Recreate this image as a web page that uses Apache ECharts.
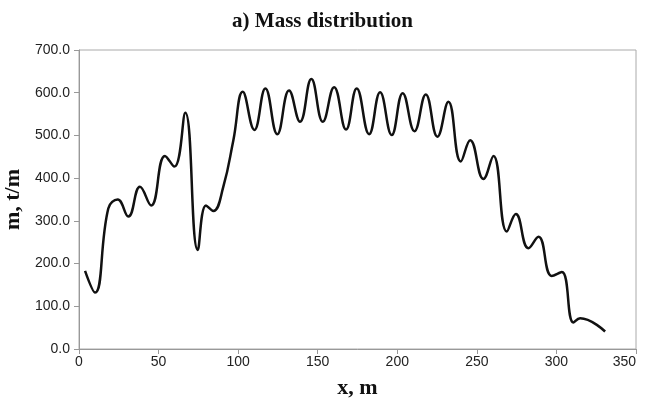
<!DOCTYPE html>
<html><head><meta charset="utf-8">
<script src="https://cdn.jsdelivr.net/npm/echarts@6/dist/echarts.min.js"></script>
<style>html,body{margin:0;padding:0;background:#fff}#c{width:645px;height:404px}</style>
</head><body><div id="c"></div>
<script>
const xPos = [3.8,10.1,18.4,24.3,31,38.3,45.3,54,59.9,66.8,74.6,79.8,84.4,90.7,97,102.9,110.2,117.1,124.6,132,138.9,146,153.2,160.3,167.8,174.5,182.3,189.2,196.5,203.4,210.8,217.9,225.2,232.1,239.9,245.8,254.1,260.4,268.8,274.5,282.4,288.7,297.1,303.4,310.7,314.9,330.6];
const mass = [183,132,329,350,310,380,336,452,427,553,232,336,323,380,489,602,513,610,503,605,532,632,532,613,514,610,503,601,501,599,510,596,497,579,439,489,398,452,275,316,236,263,171,180,62,72,41];
const xTicks = [0,50,100,150,200,250,300,350];
const yTicks = [0,100,200,300,400,500,600,700];

const chart = echarts.init(document.getElementById('c'));
chart.setOption({
  animation:false,
  title:{text:'a) Mass distribution',left:'center',top:6,
    textStyle:{fontFamily:'Liberation Serif',fontWeight:'bold',fontSize:21,color:'#111'}},
  grid:{left:79,right:9,top:50,bottom:55,show:true,borderColor:'#aaa',borderWidth:1,outerBoundsMode:'none',containLabel:false},
  xAxis:{type:'value',min:xTicks[0],max:xTicks[xTicks.length-1],interval:50,
    name:'x, m',nameLocation:'middle',nameGap:28,
    nameTextStyle:{fontFamily:'Liberation Serif',fontWeight:'bold',fontSize:22,color:'#111'},
    axisLine:{lineStyle:{color:'#999'}},axisTick:{show:true,length:5,lineStyle:{color:'#999'}},
    splitLine:{show:false},
    axisLabel:{fontFamily:'Liberation Sans',fontSize:14,color:'#222',margin:6,alignMaxLabel:'right'}},
  yAxis:{type:'value',min:yTicks[0],max:yTicks[yTicks.length-1],interval:100,
    name:'m, t/m',nameLocation:'middle',nameGap:54,
    nameTextStyle:{fontFamily:'Liberation Serif',fontWeight:'bold',fontSize:22,color:'#111'},
    axisLine:{show:true,lineStyle:{color:'#999'}},axisTick:{show:true,length:5,lineStyle:{color:'#999'}},
    splitLine:{show:false},
    axisLabel:{fontFamily:'Liberation Sans',fontSize:14,color:'#222',margin:9,formatter:v=>v.toFixed(1)}},
  series:[{type:'line',data:xPos.map((x,i)=>[x,mass[i]]),smooth:0.45,showSymbol:false,
    lineStyle:{color:'#111',width:2.5}}]
});
</script></body></html>
